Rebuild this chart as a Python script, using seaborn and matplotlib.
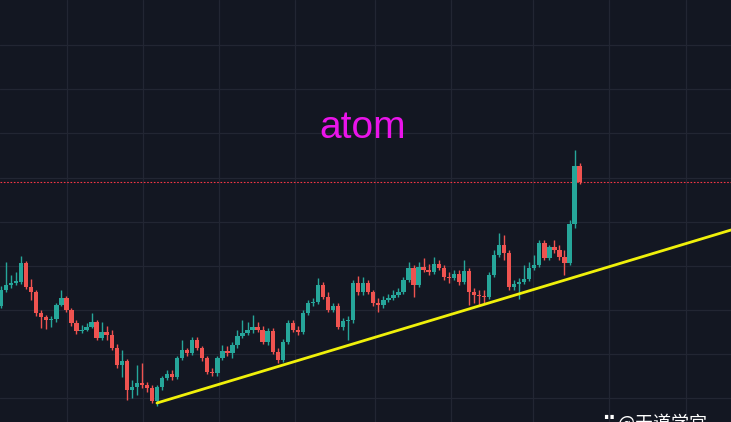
"""
ATOM candlestick chart with rising trendline (dark TradingView style).
"""

import numpy as np
import pandas as pd
import matplotlib
matplotlib.use("Agg")
import matplotlib.pyplot as plt
import seaborn as sns

# Colors
BG = '#131722'
GRID = '#222633'
UP = '#26a69a'
DOWN = '#ef5350'

# OHLC values (price units, no axis labels shown)
opens = [21.6, 23.2, 23.7, 23.9, 24.0, 25.9, 23.5, 23.0, 20.9, 20.5,
         20.2, 20.3, 21.7, 22.4, 21.2, 19.9, 19.1, 19.2, 19.5, 20.0,
         18.4, 19.0, 18.7, 17.4, 15.7, 16.1, 13.2, 13.5, 13.9, 13.7,
         13.4, 12.1, 13.5, 14.4, 14.8, 14.5, 16.4, 17.2, 16.9, 18.2,
         17.4, 16.4, 15.0, 14.9, 16.4, 17.1, 16.9, 17.7, 18.6, 18.9,
         19.2, 19.5, 19.2, 18.0, 19.1, 17.0, 16.2, 18.0, 19.9, 19.2,
         19.0, 20.9, 21.9, 22.0, 23.7, 22.5, 21.2, 21.6, 19.5, 20.1,
         20.2, 23.9, 23.0, 23.9, 23.0, 21.9, 21.7, 22.2, 22.4, 22.7,
         23.0, 24.2, 25.4, 23.7, 25.5, 25.2, 25.0, 25.8, 25.4, 24.5,
         24.4, 24.8, 24.0, 25.1, 23.0, 22.7, 22.6, 22.5, 24.7, 26.7,
         27.7, 26.9, 23.5, 23.8, 24.0, 24.3, 25.4, 25.7, 27.9, 26.4,
         27.5, 27.2, 26.5, 25.9, 29.8, 35.6]
closes = [23.2, 23.7, 23.9, 24.1, 25.9, 23.5, 23.0, 20.9, 20.5, 20.2,
          20.3, 21.7, 22.4, 21.2, 19.9, 19.1, 19.2, 19.5, 20.0, 18.4,
          19.0, 18.7, 17.4, 15.7, 16.1, 13.2, 13.5, 13.9, 13.7, 13.4,
          12.1, 13.5, 14.4, 14.8, 14.5, 16.4, 17.2, 16.9, 18.2, 17.4,
          16.4, 15.0, 14.9, 16.4, 17.1, 16.9, 17.7, 18.6, 18.9, 19.2,
          19.5, 19.2, 18.0, 19.1, 17.0, 16.2, 18.0, 19.9, 19.2, 19.0,
          20.9, 21.9, 22.0, 23.7, 22.5, 21.2, 21.6, 19.5, 20.1, 20.2,
          23.9, 23.0, 23.9, 23.0, 21.9, 21.7, 22.2, 22.4, 22.7, 23.0,
          24.2, 25.4, 23.7, 25.5, 25.2, 25.0, 25.8, 25.4, 24.5, 24.4,
          24.8, 24.0, 25.1, 23.0, 22.7, 22.6, 22.5, 24.7, 26.7, 27.7,
          26.9, 23.5, 23.8, 24.0, 24.3, 25.4, 25.7, 27.9, 26.4, 27.5,
          27.2, 26.5, 25.9, 29.8, 35.6, 34.0]
highs = [23.6, 26.0, 24.7, 25.0, 26.6, 26.1, 24.3, 23.2, 21.2, 20.7,
         20.6, 21.9, 23.2, 22.6, 21.4, 20.2, 19.7, 19.9, 20.9, 20.2,
         20.0, 19.6, 19.2, 17.8, 17.2, 16.3, 14.2, 15.7, 15.9, 14.0,
         13.7, 13.7, 14.6, 15.2, 15.2, 16.6, 18.2, 17.4, 18.5, 18.5,
         17.6, 16.6, 15.4, 16.6, 17.7, 17.6, 18.0, 19.2, 20.2, 20.0,
         20.7, 20.0, 19.6, 19.4, 19.4, 17.4, 18.3, 20.2, 20.2, 19.6,
         21.2, 22.2, 22.4, 24.4, 24.0, 23.0, 21.9, 21.9, 20.4, 20.6,
         24.2, 24.6, 24.5, 24.2, 23.2, 22.4, 22.6, 22.8, 23.2, 23.4,
         24.5, 26.0, 25.7, 26.0, 26.4, 25.8, 26.5, 26.2, 25.7, 25.0,
         25.2, 25.2, 26.2, 25.4, 23.4, 23.2, 23.2, 25.0, 27.2, 28.9,
         28.7, 27.2, 24.2, 24.4, 25.7, 26.0, 26.7, 28.2, 28.2, 27.7,
         28.2, 27.7, 27.2, 30.2, 37.2, 35.9]
lows = [21.4, 23.0, 23.4, 23.7, 23.8, 23.3, 22.2, 20.6, 19.4, 19.3,
        19.5, 20.0, 21.6, 21.0, 19.6, 18.8, 18.9, 19.1, 19.4, 18.2,
        18.2, 18.2, 17.2, 15.4, 14.5, 12.2, 12.4, 12.7, 13.4, 13.0,
        11.9, 11.6, 13.2, 14.2, 14.2, 14.3, 16.2, 16.6, 16.7, 17.2,
        16.1, 14.8, 14.6, 14.6, 16.2, 16.6, 16.4, 17.4, 18.4, 18.7,
        18.9, 19.0, 17.8, 17.7, 16.8, 15.9, 16.0, 17.8, 19.0, 18.7,
        18.8, 20.7, 21.6, 21.8, 22.3, 21.0, 21.0, 19.3, 19.2, 18.2,
        19.9, 22.7, 22.7, 22.8, 21.6, 21.0, 21.4, 22.0, 22.2, 22.5,
        22.8, 24.0, 22.5, 23.5, 25.0, 24.7, 24.8, 25.2, 24.2, 23.9,
        24.2, 23.7, 23.8, 21.7, 21.9, 21.7, 21.8, 22.3, 24.5, 26.5,
        26.2, 23.2, 23.2, 22.3, 23.8, 24.1, 25.2, 25.5, 26.2, 26.2,
        26.9, 26.2, 24.7, 25.7, 29.4, 33.8]

# Rising support line (candle index, price)
trend_x = [31.0, 145.1]
trend_y = [11.9, 29.2]

# Reference line at the last close
last_price = 34.0

# Grid positions (candle index / price)
vgrid = [13.1, 28.2, 43.3, 58.4, 74.4, 89.5, 105.8, 120.9, 136.2]
hgrid = [12.4, 16.8, 21.2, 25.6, 30.0, 34.4, 38.9, 43.3, 47.7]

title = 'atom'
watermark = '@天道学宫'

df = pd.DataFrame({'open': opens, 'high': highs, 'low': lows, 'close': closes})
df['idx'] = np.arange(len(df))
df['up'] = df['close'] >= df['open']
df['color'] = np.where(df['up'], UP, DOWN)

sns.set_theme(style='dark', rc={'axes.facecolor': BG, 'figure.facecolor': BG})
plt.rcParams['font.family'] = ['Liberation Sans', 'Noto Sans CJK SC', 'DejaVu Sans']

fig = plt.figure(figsize=(7.31, 4.22), dpi=100)
ax = fig.add_axes([0, 0, 1, 1])
ax.set_facecolor(BG)

for v in vgrid:
    ax.axvline(v, color=GRID, lw=0.9, zorder=0)
for h in hgrid:
    ax.axhline(h, color=GRID, lw=0.9, zorder=0)

# Wicks
ax.vlines(df['idx'], df['low'], df['high'], colors=df['color'], lw=1.0, zorder=2)

# Bodies
body_bottom = np.minimum(df['open'], df['close'])
body_height = np.maximum((df['close'] - df['open']).abs(), 0.15)
ax.bar(df['idx'], body_height, bottom=body_bottom, width=0.86,
       color=df['color'], edgecolor='none', zorder=3)

# Last price line
ax.axhline(last_price, color='#f23645', lw=0.8, ls=(0, (1.5, 1.5)), zorder=1)

# Trendline
sns.lineplot(x=trend_x, y=trend_y, color='#f0f00a', lw=2, ax=ax, zorder=4)

ax.text(0.496, 0.697, title, transform=ax.transAxes, color='#ea14ea',
        fontsize=28, ha='center', va='center')

# Watermark (cut by the bottom edge, as in the source image)
fig.text(0.826, 0.02, '▘▘', color='white', fontsize=6, ha='left', va='top',
         family=['DejaVu Sans'])
fig.text(0.845, 0.02, watermark, color='white', fontsize=13,
         ha='left', va='top', family=['Noto Sans CJK SC', 'DejaVu Sans'])

ax.set_xlim(-0.2, 145.1)
ax.set_ylim(10.0, 52.2)
ax.set_xticks([])
ax.set_yticks([])
for s in ax.spines.values():
    s.set_visible(False)

fig.savefig('out.png', dpi=100, facecolor=BG)
